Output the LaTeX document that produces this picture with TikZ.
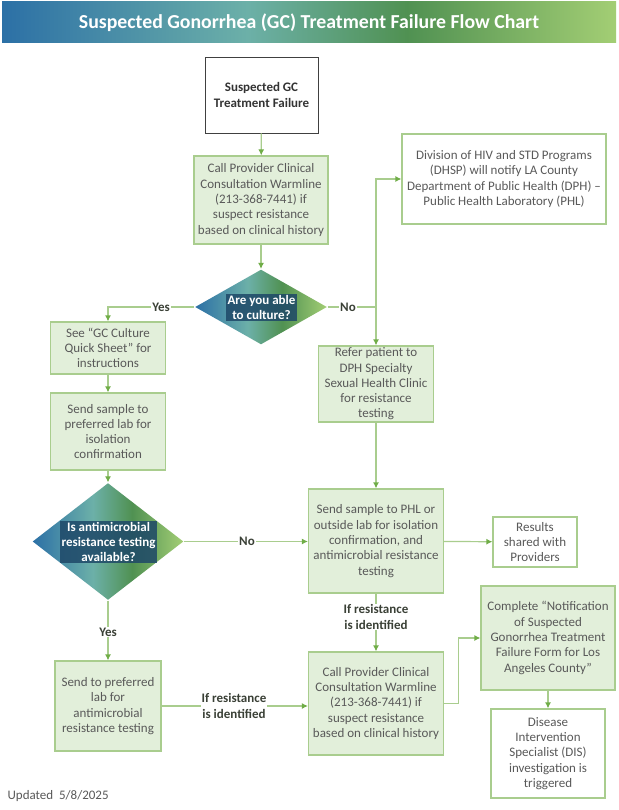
\documentclass[tikz,border=0pt]{standalone}
\usepackage{fontspec}
\setmainfont{Carlito}
\usetikzlibrary{shapes.geometric,arrows.meta}

\definecolor{gcfill}{RGB}{226,239,218}
\definecolor{gcline}{RGB}{169,205,142}
\definecolor{gcarrow}{RGB}{112,173,71}
\definecolor{gctext}{RGB}{89,89,89}
\definecolor{gclabel}{RGB}{58,64,54}
\definecolor{gcnavy}{RGB}{30,72,104}
\definecolor{gcbA}{RGB}{44,112,166}
\definecolor{gcbB}{RGB}{108,176,168}
\definecolor{gcbC}{RGB}{80,145,82}
\definecolor{gcbD}{RGB}{163,206,116}

\pgfdeclarehorizontalshading{gcband}{100bp}{color(0bp)=(gcbA); color(25bp)=(gcbA);
  color(45bp)=(gcbB); color(58bp)=(gcbC); color(75bp)=(gcbD); color(100bp)=(gcbD)}

\tikzset{
  boxtext/.style={font=\fontsize{13}{15.3}\selectfont, text=gctext, align=center, inner sep=0pt},
  greenbox/.style={boxtext, draw=gcline, fill=gcfill, line width=1.2pt},
  whitebox/.style={boxtext, draw=gcline, fill=white, line width=1.2pt},
  decision/.style={diamond, shading=gcband, inner sep=0pt},
  question/.style={font=\bfseries\fontsize{13}{15.3}\selectfont, text=white, align=center,
    fill=gcnavy, fill opacity=0.85, text opacity=1, inner xsep=1.5pt, inner ysep=1pt},
  answer/.style={font=\bfseries\fontsize{13}{15.3}\selectfont, text=gclabel, align=center,
    fill=white, inner sep=1pt},
  link/.style={draw=gcline},
}

\begin{document}
\begin{tikzpicture}[x=1pt,y=-1pt,->,>={Latex[length=6pt,width=6pt,color=gcarrow]},
    line width=1.2pt]

\useasboundingbox [fill=white] (0,0) rectangle (618,810);

\node [shading=gcband, minimum width=614pt, minimum height=41pt, inner sep=0pt,
    text=white, font=\bfseries\fontsize{19.8}{22}\selectfont] (title) at (309,22.5)
    {Suspected Gonorrhea (GC) Treatment Failure Flow Chart};

% left column
\node [whitebox, draw=black!75, line width=0.8pt, font=\bfseries\fontsize{13}{15.3}\selectfont,
    text=black!80, minimum width=113pt, minimum height=76pt] (start) at (261.5,95)
    {Suspected GC\\Treatment Failure};
\node [greenbox, minimum width=134pt, minimum height=88pt] (warm1) at (261,200)
    {Call Provider Clinical\\Consultation Warmline\\(213-368-7441) if\\suspect resistance\\based on clinical history};
\node [decision, minimum width=132pt, minimum height=75pt] (cult) at (261,307) {};
\node [question] (cultq) at (261.5,307.5) {Are you able\\to culture?};

\node [greenbox, minimum width=115pt, minimum height=52pt] (sheet) at (108,348)
    {See “GC Culture\\Quick Sheet” for\\instructions};
\node [greenbox, minimum width=115pt, minimum height=77pt] (isol) at (108,431.5)
    {Send sample to\\preferred lab for\\isolation\\confirmation};
\node [decision, minimum width=151pt, minimum height=117pt] (amr) at (108,541.5) {};
\node [question] (amrq) at (108.5,542) {Is antimicrobial\\resistance testing\\available?};
\node [greenbox, minimum width=106pt, minimum height=90pt] (pref) at (108,706)
    {Send to preferred\\lab for\\antimicrobial\\resistance testing};

% right column
\node [whitebox, minimum width=204pt, minimum height=90pt] (dhsp) at (504,179)
    {Division of HIV and STD Programs\\(DHSP) will notify LA County\\Department of Public Health (DPH) –\\Public Health Laboratory (PHL)};
\node [greenbox, minimum width=115pt, minimum height=76pt] (refer) at (376,384)
    {Refer patient to\\DPH Specialty\\Sexual Health Clinic\\for resistance\\testing};
\node [greenbox, minimum width=135pt, minimum height=104pt] (phl) at (376,541)
    {Send sample to PHL or\\outside lab for isolation\\confirmation, and\\antimicrobial resistance\\testing};
\node [whitebox, minimum width=84pt, minimum height=50pt] (share) at (535,542)
    {Results\\shared with\\Providers};
\node [greenbox, minimum width=135pt, minimum height=103pt] (warm2) at (376,703.5)
    {Call Provider Clinical\\Consultation Warmline\\(213-368-7441) if\\suspect resistance\\based on clinical history};
\node [greenbox, minimum width=134pt, minimum height=104pt] (form) at (548,638)
    {Complete “Notification\\of Suspected\\Gonorrhea Treatment\\Failure Form for Los\\Angeles County”};
\node [whitebox, minimum width=114pt, minimum height=89pt] (dis) at (548,753.5)
    {Disease\\Intervention\\Specialist (DIS)\\investigation is\\triggered};

\node [boxtext, anchor=west] (updated) at (7,796) {Updated\ \ 5/8/2025};

\coordinate (split) at (refer.north |- cult.east);

% connectors
\draw [link] (start) -- (warm1);
\draw [link] (warm1) -- (cult);
\draw [link] (cult.west) -| (sheet);
\draw [link] (sheet) -- (isol);
\draw [link] (isol) -- (amr);
\draw [link,-] (cult.east) -- (split);
\draw [link] (split) |- (dhsp);
\draw [link] (split) -- (refer);
\draw [link] (refer) -- (phl);
\draw [link] (phl) -- (share);
\draw [link] (amr.east) -- (amr.east -| phl.west);
\draw [link] (amr) -- (pref);
\draw [link] (pref.east) -- (pref.east -| warm2.west);
\draw [link] (phl) -- (warm2);
\draw [link] (warm2.east) -- ++(14,0) |- (form.west);
\draw [link] (form) -- (dis);

% labels on the connectors
\node [answer] (yes1) at (161,307) {Yes};
\node [answer] (no1) at (348,307) {No};
\node [answer] (no2) at (247,541.5) {No};
\node [answer] (yes2) at (108,632) {Yes};
\node [answer] (ifres1) at (376,617) {If resistance\\is identified};
\node [answer] (ifres2) at (234,706) {If resistance\\is identified};

\end{tikzpicture}
\end{document}
